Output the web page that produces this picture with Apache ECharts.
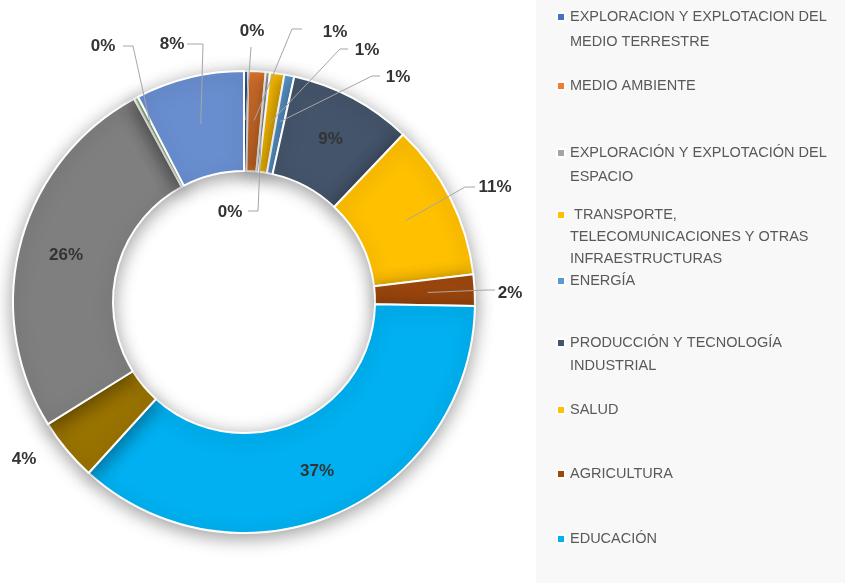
<!DOCTYPE html>
<html>
<head>
<meta charset="utf-8">
<script src="https://cdn.jsdelivr.net/npm/echarts@6/dist/echarts.min.js"></script>
<style>html,body{margin:0;padding:0;background:#fff;}#chart{width:845px;height:583px;}</style>
</head>
<body>
<div id="chart"></div>
<script>
// ---- data ----
const categories = [
  'EXPLORACION Y EXPLOTACION DEL MEDIO TERRESTRE',
  'MEDIO AMBIENTE',
  'EXPLORACIÓN Y EXPLOTACIÓN DEL ESPACIO',
  'TRANSPORTE, TELECOMUNICACIONES Y OTRAS INFRAESTRUCTURAS',
  'ENERGÍA',
  'PRODUCCIÓN Y TECNOLOGÍA INDUSTRIAL',
  'SALUD',
  'AGRICULTURA',
  'EDUCACIÓN',
  'OTROS 1',
  'OTROS 2',
  'OTROS 3',
  'OTROS 4'
];
const values = [0.3, 1.2, 0.3, 1.0, 0.7, 8.6, 11.0, 2.2, 36.5, 4.4, 26.0, 0.3, 7.6];
const colors = ['#4472C4', '#ED7D31', '#A5A5A5', '#FFC000', '#5B9BD5', '#44546A', '#FFC000', '#9E480E', '#00B0F0', '#997300', '#7F7F7F', '#A9D18E', '#698ED0'];
const legendLabels = [
  'EXPLORACION Y EXPLOTACION DEL\nMEDIO TERRESTRE',
  'MEDIO AMBIENTE',
  'EXPLORACIÓN Y EXPLOTACIÓN DEL\nESPACIO',
  ' TRANSPORTE,\nTELECOMUNICACIONES Y OTRAS\nINFRAESTRUCTURAS',
  'ENERGÍA',
  'PRODUCCIÓN Y TECNOLOGÍA\nINDUSTRIAL',
  'SALUD',
  'AGRICULTURA',
  'EDUCACIÓN'
];

// ---- layout ----
const CX = 244, CY = 302, R0 = 131, R1 = 231;
const legendFirstLineY = [17, 86, 153, 215, 281, 343, 410, 474, 539];
const legendLineH = [25, 24, 24, 22, 24, 23, 24, 24, 24];
const insideIdx = [5, 8, 10];
const labelSpots = {
  0:  {x: 252, y: 31,  r: 182, line: [[251, 47]]},
  1:  {x: 335, y: 32,  r: 182, line: [[292, 29], [302, 29]]},
  2:  {x: 230, y: 212, r: 165, line: [[258, 211], [248, 211]]},
  3:  {x: 367, y: 50,  r: 181, line: [[340, 49], [348, 49]]},
  4:  {x: 398, y: 77,  r: 184, line: [[372, 76], [380, 76]]},
  6:  {x: 495, y: 187, r: 182, line: [[465, 187], [475, 187]]},
  7:  {x: 510, y: 293, r: 184, line: [[487, 290], [495, 290]]},
  9:  {x: 24,  y: 459, r: 182, line: null},
  11: {x: 103, y: 46,  r: 200, line: [[133, 46], [123, 46]]},
  12: {x: 172, y: 44,  r: 183, line: [[203, 44], [187, 44]]}
};

const total = values.reduce((a, b) => a + b, 0);
const midAngles = [];
let acc = 0;
values.forEach(v => { midAngles.push((acc + v / 2) / total * 2 * Math.PI); acc += v; });
function ringPoint(i, r) {
  const a = midAngles[i];
  return [CX + r * Math.sin(a), CY - r * Math.cos(a)];
}

const labelFont = {fontFamily: 'Liberation Sans', fontWeight: 'bold', fontSize: 17, color: '#333333'};
const fmt = p => Math.round(p.value) + '%';

// series A: coloured ring + labels inside the ring
const ringData = categories.map((name, i) => {
  const inside = insideIdx.indexOf(i) >= 0;
  return {
    name: name,
    value: values[i],
    itemStyle: {color: colors[i]},
    label: Object.assign({show: inside, position: 'inside', formatter: fmt}, labelFont),
    labelLine: {show: false}
  };
});

// series B: same values, invisible sectors, drawn on a higher z so the leader lines sit on top of the ring
const calloutData = categories.map((name, i) => {
  const spot = labelSpots[i];
  return {
    name: name,
    value: values[i],
    label: Object.assign({show: !!spot, position: 'outside', formatter: fmt}, labelFont),
    labelLine: {show: !!(spot && spot.line), lineStyle: {color: '#A6A6A6', width: 1}}
  };
});

const legends = legendLabels.map((txt, i) => {
  const n = txt.split('\n').length;
  const lh = legendLineH[i];
  const shown = '\n'.repeat(n - 1) + txt;
  const H = (2 * n - 1) * lh;
  return {
    data: [categories[i]],
    orient: 'vertical',
    left: 556,
    top: legendFirstLineY[i] - H / 2,
    padding: 0,
    itemWidth: 8,
    itemHeight: 8,
    icon: 'rect',
    selectedMode: false,
    formatter: () => shown,
    textStyle: {
      fontFamily: 'Liberation Sans',
      fontSize: 14.5,
      color: '#595959',
      lineHeight: lh
    }
  };
});

const chart = echarts.init(document.getElementById('chart'), null, {renderer: 'canvas'});
chart.setOption({
  animation: false,
  backgroundColor: '#ffffff',
  graphic: [{
    type: 'rect', left: 536, top: 0, z: -10,
    shape: {width: 309, height: 583},
    style: {fill: '#F8F8F8'}
  }],
  legend: legends,
  series: [{
    type: 'pie',
    name: 'ring',
    z: 2,
    center: [CX, CY],
    radius: [R0, R1],
    startAngle: 90,
    clockwise: true,
    avoidLabelOverlap: false,
    silent: true,
    data: ringData,
    itemStyle: {
      borderColor: '#ffffff',
      borderWidth: 2,
      shadowBlur: 18,
      shadowColor: 'rgba(0,0,0,0.38)',
      shadowOffsetY: 4
    }
  }, {
    type: 'pie',
    name: 'callouts',
    z: 5,
    center: [CX, CY],
    radius: [R0, R1],
    startAngle: 90,
    clockwise: true,
    avoidLabelOverlap: false,
    silent: true,
    data: calloutData,
    itemStyle: {color: 'rgba(0,0,0,0)', borderWidth: 0},
    labelLayout: function (params) {
      const spot = labelSpots[params.dataIndex];
      if (!spot) return {};
      const out = {x: spot.x, y: spot.y, align: 'center', verticalAlign: 'middle'};
      if (spot.line) {
        const pts = [ringPoint(params.dataIndex, spot.r)].concat(spot.line);
        while (pts.length < 3) pts.push(pts[pts.length - 1]);
        out.labelLinePoints = pts;
      }
      return out;
    }
  }]
});
</script>
</body>
</html>
